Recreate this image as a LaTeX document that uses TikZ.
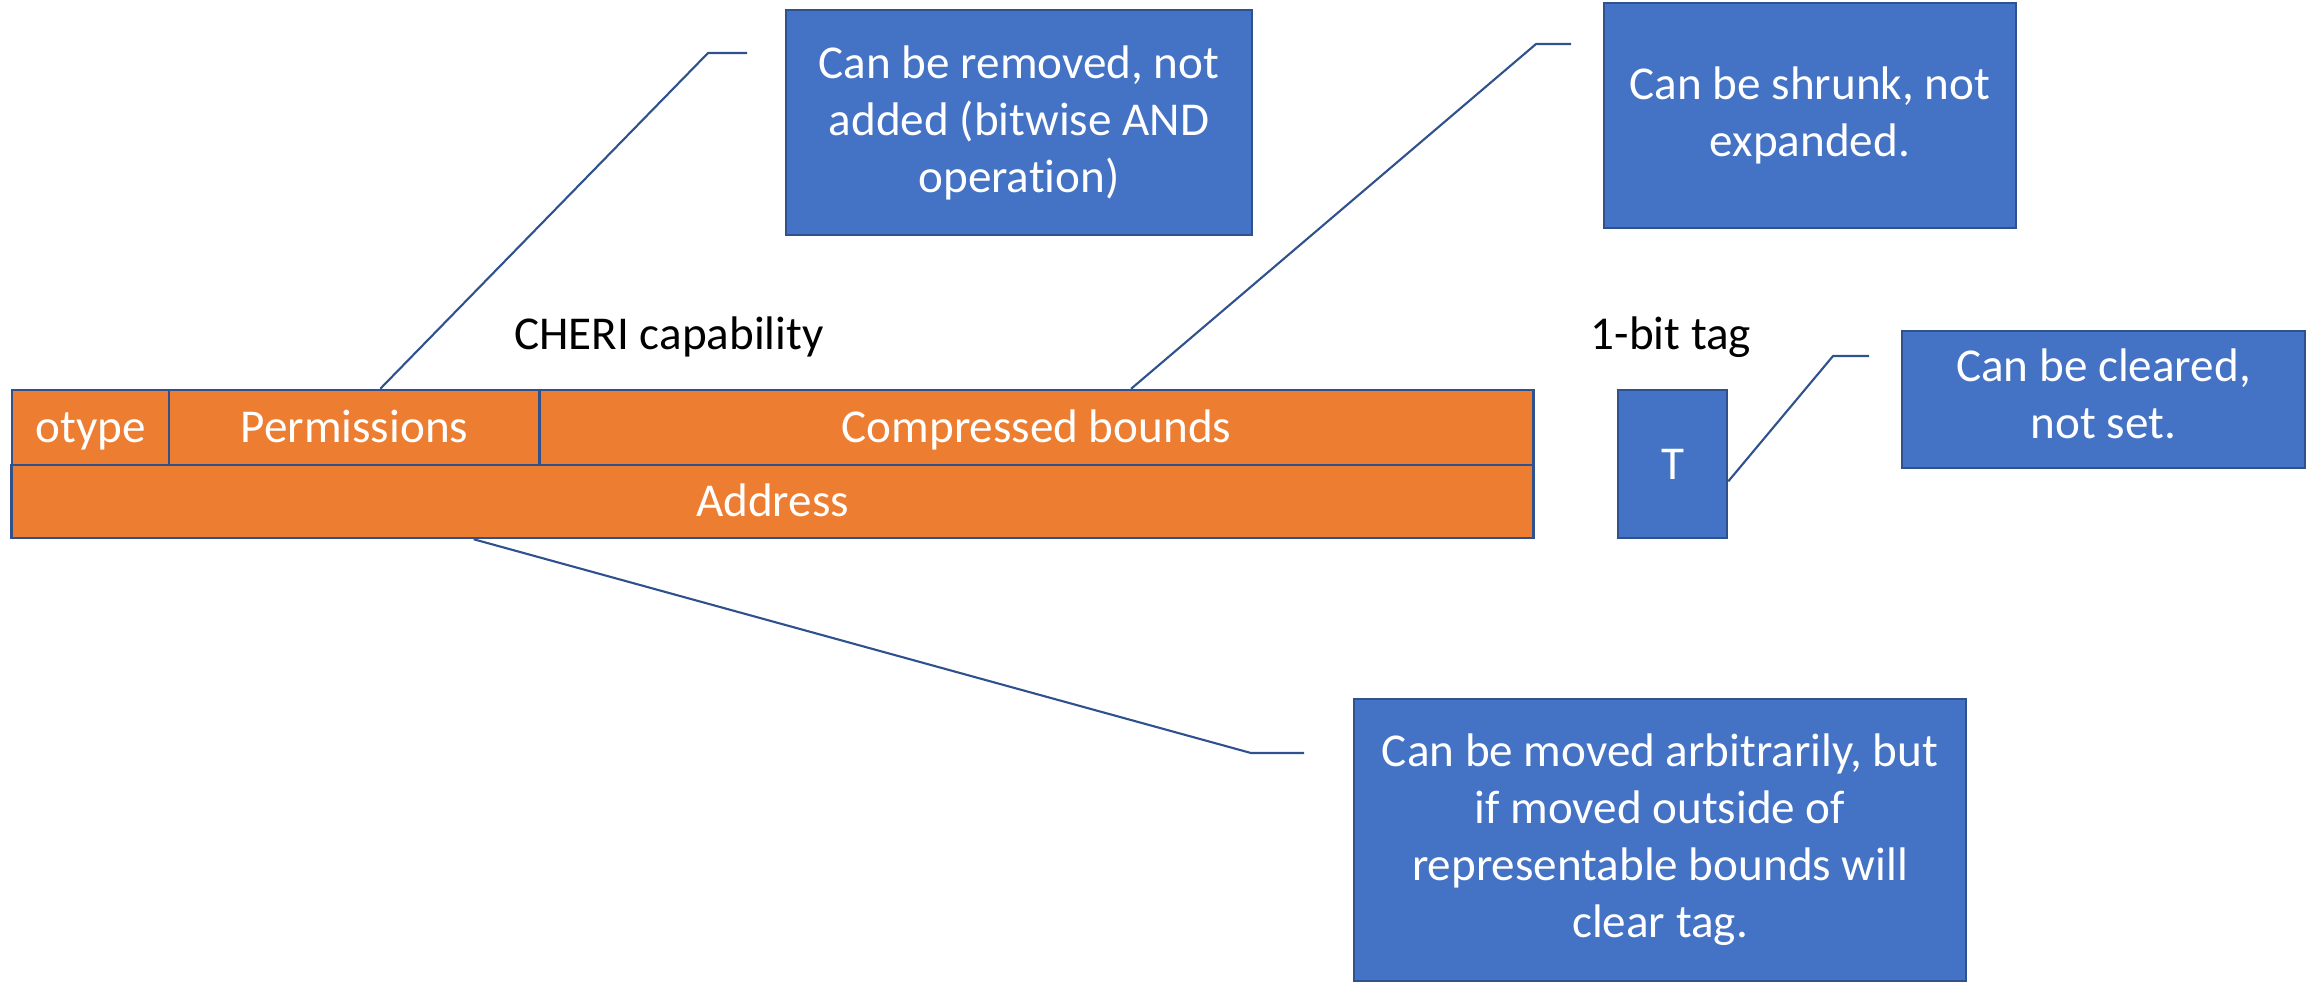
\documentclass[tikz,border=0pt]{standalone}
\usepackage{fontspec}
\setmainfont{Carlito}[Ligatures=NoCommon]
\usetikzlibrary{calc}
\definecolor{fieldorange}{HTML}{ED7D31}
\definecolor{noteblue}{HTML}{4472C4}
\definecolor{edgeblue}{HTML}{2F528F}
\begin{document}
\begin{tikzpicture}[x=0.01cm,y=-0.01cm,
  txt/.style={font=\fontsize{13.4}{16.2}\selectfont},
  field/.style={txt, draw=edgeblue, line width=0.7pt, fill=fieldorange, text=white,
    inner sep=0pt, text height=0.30cm, text depth=0pt},
  note/.style={txt, draw=edgeblue, line width=0.7pt, fill=noteblue, text=white,
    inner sep=0pt, align=center},
  caption/.style={txt, text=black, inner sep=0pt},
  leader/.style={draw=edgeblue, line width=0.6pt}]
\useasboundingbox (0,0) rectangle (2307,981);
\clip (0,0) rectangle (2307,981);

% capability fields
\node[field, minimum width=1.57cm, minimum height=0.75cm] (otype) at (90.5,427.5) {otype};
\node[field, minimum width=3.71cm, minimum height=0.75cm] (perm) at (354.5,427.5) {Permissions};
\node[field, minimum width=9.93cm, minimum height=0.75cm] (bounds) at (1036.5,427.5) {Compressed bounds};
\node[field, minimum width=15.21cm, minimum height=0.73cm] (addr) at (772.5,501.5) {Address};

% tag bit
\node[note, minimum width=1.09cm, minimum height=1.48cm, text height=0.30cm, text depth=0pt] (tag) at (1672.5,464) {T};

% captions
\node[caption] (capcap) at (669,337) {CHERI capability};
\node[caption] (tagcap) at (1671,337) {1-bit tag};

% notes
\node[note, minimum width=4.66cm, minimum height=2.25cm] (nperm) at (1019,122.5)
  {Can be removed, not\\added (bitwise AND\\operation)};
\node[note, minimum width=4.12cm, minimum height=2.25cm] (nbounds) at (1810,115.5)
  {Can be shrunk, not\\expanded.};
\node[note, minimum width=4.03cm, minimum height=1.37cm] (ntag) at (2103.5,399.5)
  {Can be cleared,\\not set.\rule[-0.12cm]{0pt}{0pt}};
\node[note, minimum width=6.12cm, minimum height=2.82cm] (naddr) at (1660,840)
  {Can be moved arbitrarily, but\\if moved outside of\\representable bounds will\\clear tag.};

% leader lines
\coordinate (k1) at (708,53);   \coordinate (k1e) at (747,53);
\coordinate (k2) at (1536,44);  \coordinate (k2e) at (1571,44);
\coordinate (k3) at (1833,356); \coordinate (k3e) at (1869,356);
\coordinate (k4) at (1251,753); \coordinate (k4e) at (1304,753);

\draw[leader] ($(perm.north west)!0.569!(perm.north east)$) -- (k1) -- (k1e);
\draw[leader] ($(bounds.north west)!0.595!(bounds.north east)$) -- (k2) -- (k2e);
\draw[leader] ($(tag.north east)!0.615!(tag.south east)$) -- (k3) -- (k3e);
\draw[leader] ($(addr.south west)!0.304!(addr.south east)$) -- (k4) -- (k4e);
\end{tikzpicture}
\end{document}
